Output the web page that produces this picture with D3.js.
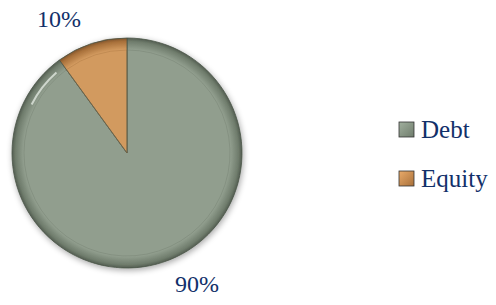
<!DOCTYPE html>
<html>
<head>
<meta charset="utf-8">
<script src="https://cdn.jsdelivr.net/npm/d3@7"></script>
<style>
  body { margin: 0; background: #fff; }
  text { font-family: 'Liberation Serif', 'DejaVu Serif', serif; fill: #12306a; }
</style>
</head>
<body>
<div id="chart"></div>
<script>
const categories = ['Debt', 'Equity']
const values = [90, 10]
const pctLabels = ['90%', '10%']
const colors = ['#919e8e', '#d29a5f']
const darks = ['#6f7c6c', '#a8703a']

const W = 496, H = 305
const cx = 127, cy = 153, R = 115

const svg = d3.select('#chart').append('svg')
    .attr('width', W).attr('height', H)

const defs = svg.append('defs')
const shadow = defs.append('filter').attr('id', 'shadow')
    .attr('x', '-20%').attr('y', '-20%').attr('width', '140%').attr('height', '140%')
shadow.append('feGaussianBlur').attr('in', 'SourceAlpha').attr('stdDeviation', 3)
shadow.append('feOffset').attr('dx', 1).attr('dy', 2).attr('result', 'b')
shadow.append('feComponentTransfer').append('feFuncA').attr('type', 'linear').attr('slope', 0.35)
const m = shadow.append('feMerge')
m.append('feMergeNode')
m.append('feMergeNode').attr('in', 'SourceGraphic')

categories.forEach((c, i) => {
    const g = defs.append('radialGradient').attr('id', 'grad' + i)
        .attr('gradientUnits', 'userSpaceOnUse')
        .attr('cx', 0).attr('cy', 0).attr('r', R)
    g.append('stop').attr('offset', '0%').attr('stop-color', colors[i])
    g.append('stop').attr('offset', '90%').attr('stop-color', colors[i])
    g.append('stop').attr('offset', '97%').attr('stop-color', darks[i])
    g.append('stop').attr('offset', '100%').attr('stop-color', d3.color(darks[i]).darker(0.8))
    const lg = defs.append('linearGradient').attr('id', 'leg' + i)
        .attr('x1', 0).attr('y1', 0).attr('x2', 1).attr('y2', 1)
    lg.append('stop').attr('offset', '0%').attr('stop-color', d3.color(colors[i]).brighter(0.3))
    lg.append('stop').attr('offset', '100%').attr('stop-color', darks[i])
})

// debt runs clockwise from 12 o'clock, equity fills the last 10%
const pie = d3.pie().sort(null).value(d => d)
const arcs = pie(values)
const arc = d3.arc().innerRadius(0).outerRadius(R)
const innerArc = d3.arc().innerRadius(0).outerRadius(R - 12)

const g = svg.append('g').attr('transform', 'translate(' + cx + ',' + cy + ')')

g.append('g').attr('filter', 'url(#shadow)')
    .selectAll('path').data(arcs).enter().append('path')
    .attr('d', arc)
    .attr('fill', (d, i) => 'url(#grad' + i + ')')
    .attr('stroke', '#4a5548').attr('stroke-width', 0.8)

// inner bevel line
g.selectAll('path.bevel').data(arcs).enter().append('path')
    .attr('class', 'bevel')
    .attr('d', innerArc)
    .attr('fill', 'none')
    .attr('stroke', (d, i) => d3.color(darks[i]).darker(0.3))
    .attr('stroke-opacity', 0.4).attr('stroke-width', 0.7)

// highlight on upper-left rim
g.append('path')
    .attr('d', d3.arc().innerRadius(R - 9).outerRadius(R - 7)
        .startAngle(-1.1).endAngle(-0.72)())
    .attr('fill', '#eef4ec').attr('opacity', 0.7)

// percentage labels
const labelPos = [[197, 292], [59, 27]]
arcs.forEach((d, i) => {
    svg.append('text')
        .attr('x', labelPos[i][0]).attr('y', labelPos[i][1])
        .attr('text-anchor', 'middle')
        .attr('font-size', 24)
        .text(pctLabels[i])
})

// legend
const legend = svg.append('g').attr('transform', 'translate(399, 122)')
const y = d3.scaleBand().domain(categories).range([0, 98]).padding(0)
categories.forEach((c, i) => {
    const row = legend.append('g').attr('transform', 'translate(0,' + y(c) + ')')
    row.append('rect').attr('width', 15).attr('height', 15)
        .attr('fill', 'url(#leg' + i + ')')
        .attr('stroke', '#333').attr('stroke-width', 0.8)
    row.append('text').attr('x', 22).attr('y', 16)
        .attr('font-size', 25).text(c)
})
</script>
</body>
</html>
